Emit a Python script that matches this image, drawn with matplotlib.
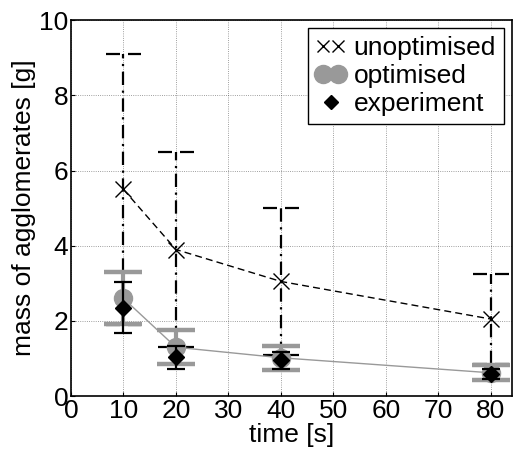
"""
Agglomerate mass over time: unoptimised vs optimised model vs experiment.
"""
import matplotlib
matplotlib.use("Agg")
import matplotlib.pyplot as plt
from matplotlib.lines import Line2D
from matplotlib.legend_handler import HandlerLine2D

# --- Data ---
time = [10, 20, 40, 80]

unopt = [5.5, 3.9, 3.05, 2.05]
unopt_err = [3.6, 2.6, 1.95, 1.2]

opt = [2.6, 1.3, 1.02, 0.62]
opt_err = [0.69, 0.45, 0.32, 0.2]

exp_mean = [2.34, 1.05, 0.95, 0.6]
exp_lo = [0.67, 0.32, 0.22, 0.14]
exp_hi = [0.70, 0.28, 0.22, 0.13]

GREY = "#999999"
FS = 19

plt.rcParams["font.family"] = ["Liberation Sans", "DejaVu Sans"]

fig = plt.figure(figsize=(5.14, 4.59), dpi=100)
ax = fig.add_axes([0.138, 0.137, 0.858, 0.819])

# --- Unoptimised: dash-dot bars, dashed caps ---
eb = ax.errorbar(time, unopt, yerr=unopt_err, fmt="none", ecolor="k",
                 elinewidth=1.6, capsize=0, zorder=2)
eb[2][0].set_linestyle((0, (6, 2.5, 1, 2.5)))
cap_half = 3.4
for t, m, e in zip(time, unopt, unopt_err):
    ax.hlines([m - e, m + e], t - cap_half, t + cap_half, colors="k",
              linewidth=1.6, linestyles=[(0, (6.3, 3.6))], zorder=2)
ax.plot(time, unopt, color="k", linestyle=(0, (5, 3)), linewidth=1.0,
        marker="x", markersize=12, markeredgewidth=1.0, zorder=3)

# --- Optimised ---
ax.errorbar(time, opt, yerr=opt_err, fmt="none", ecolor=GREY,
            elinewidth=3, capsize=13.5, capthick=3.2, zorder=4)
ax.plot(time, opt, color=GREY, linewidth=1.0, zorder=4)
ax.plot(time, opt, linestyle="none", marker="o", markersize=13,
        color=GREY, zorder=5)

# --- Experiment ---
ax.errorbar(time, exp_mean, yerr=[exp_lo, exp_hi], fmt="none", ecolor="k",
            elinewidth=1.6, capsize=6.5, capthick=1.6, zorder=6)
ax.plot(time, exp_mean, linestyle="none", marker="D", markersize=8,
        color="k", zorder=7)

# --- Axes ---
ax.set_xlim(0, 84)
ax.set_ylim(0, 10)
ax.set_xticks(range(0, 81, 10))
ax.set_yticks(range(0, 11, 2))
ax.grid(True, linestyle=":", color="k", linewidth=0.6, alpha=0.5)
ax.tick_params(direction="in", length=3, labelsize=FS, pad=2)
ax.set_xlabel("time [s]", fontsize=FS, labelpad=0)
ax.set_ylabel("mass of agglomerates [g]", fontsize=FS, labelpad=2)
for s in ax.spines.values():
    s.set_linewidth(1.2)

handles = [
    Line2D([], [], color="k", linestyle="none", marker="x", markersize=9),
    Line2D([], [], color=GREY, linestyle="none", marker="o", markersize=13),
    Line2D([], [], color="k", linestyle="none", marker="D", markersize=7),
]
leg = ax.legend(handles, ["unoptimised", "optimised", "experiment"],
                loc="upper right", fontsize=FS, numpoints=2,
                handlelength=1.15, handletextpad=0.3, borderpad=0.3,
                labelspacing=0.15, borderaxespad=0.3, fancybox=False,
                edgecolor="k", framealpha=1,
                handler_map={handles[2]: HandlerLine2D(numpoints=1)})
leg.get_frame().set_linewidth(1.0)

fig.savefig("out.png", dpi=100)
